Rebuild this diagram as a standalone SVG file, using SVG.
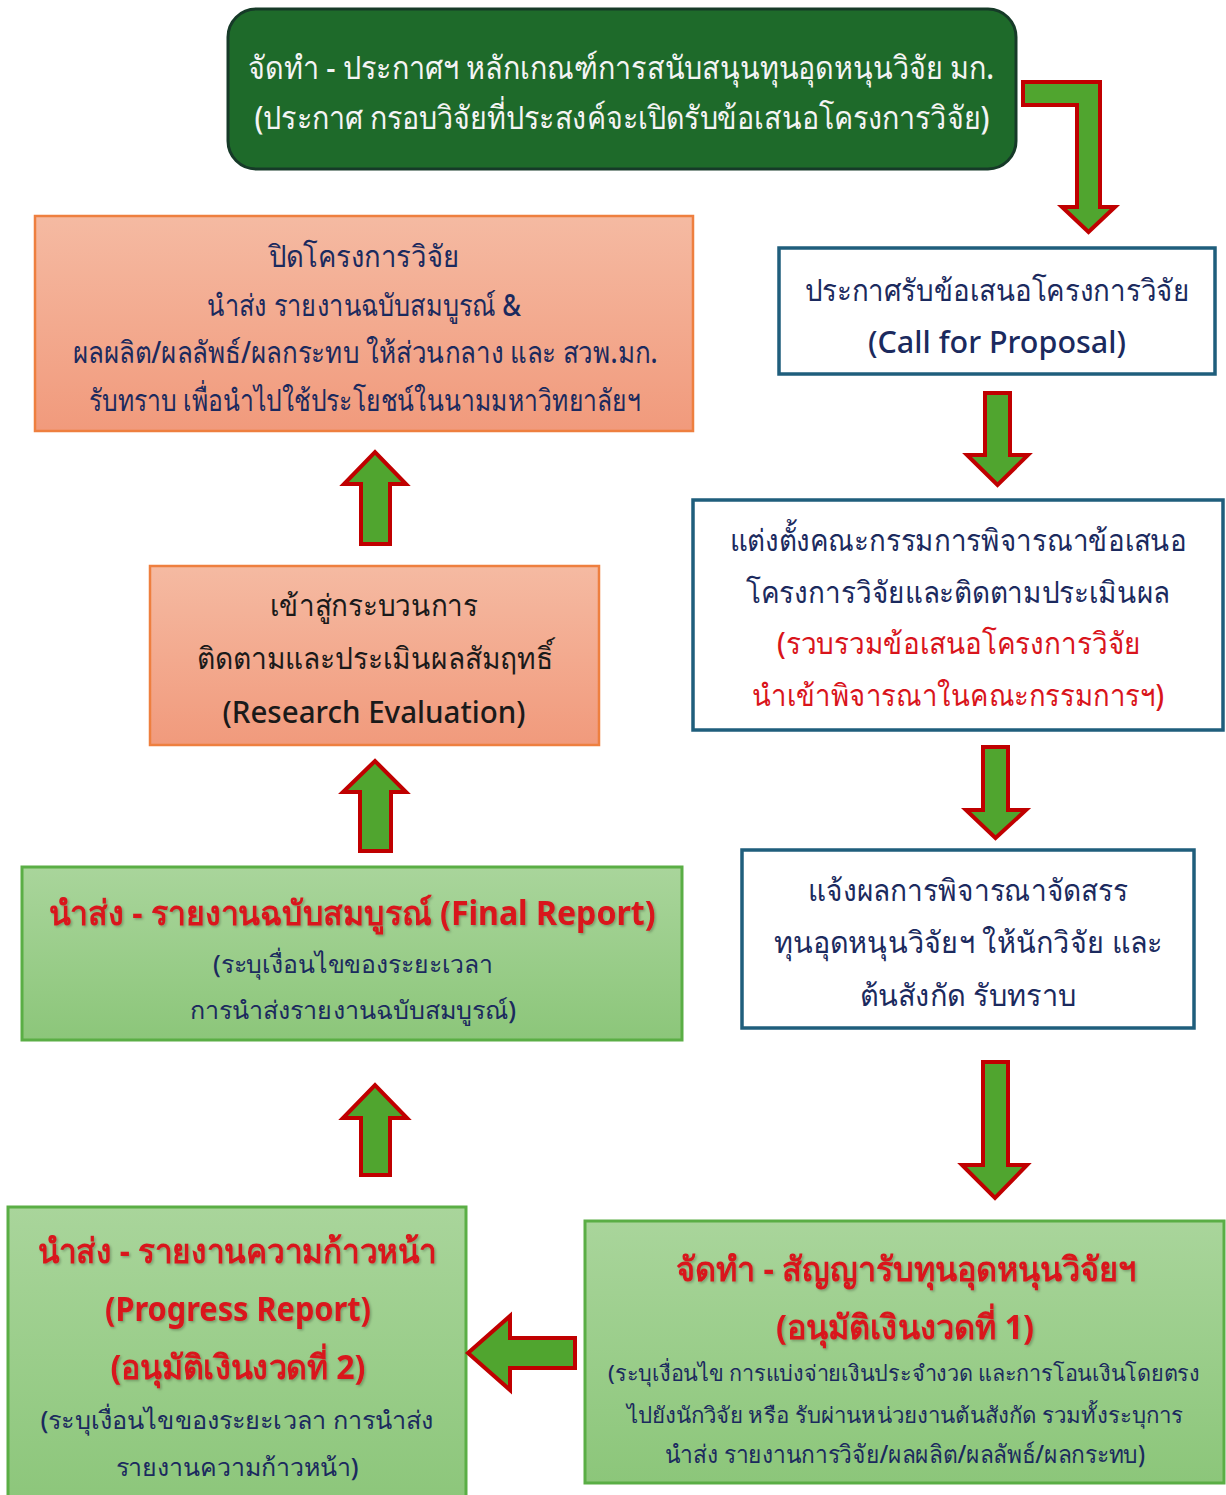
<svg xmlns="http://www.w3.org/2000/svg" width="1226" height="1495" viewBox="0 0 1226 1495">
<defs>
<linearGradient id="gSalmon" x1="0" y1="0" x2="0" y2="1"><stop offset="0" stop-color="#f5baa2"/><stop offset="1" stop-color="#f19a7c"/></linearGradient>
<linearGradient id="gGreen" x1="0" y1="0" x2="0" y2="1"><stop offset="0" stop-color="#a9d59b"/><stop offset="1" stop-color="#8cc67a"/></linearGradient>
<filter id="sh" x="-5%" y="-20%" width="110%" height="140%"><feDropShadow dx="1.5" dy="1.5" stdDeviation="1" flood-color="#000" flood-opacity="0.25"/></filter>
</defs>
<style>
text{font-family:"Noto Sans",Lato,sans-serif;text-anchor:middle;font-weight:500;}
.n{fill:#1b2a5e;font-size:30px;}
.s{fill:#1b2a5e;font-size:25px;}
.s3{fill:#1b2a5e;font-size:22px;}
.w{fill:#f4f4f4;font-size:32px;}
.r{fill:#d9141b;font-size:34px;font-weight:bold;filter:url(#sh);}
.r2{fill:#d9141b;font-size:30px;}
.k{fill:#1a1a1a;font-size:30px;}
.bx{fill:#fff;stroke:#1f5e7c;stroke-width:3.5;}
.sal{fill:url(#gSalmon);stroke:#ee7f3f;stroke-width:2.5;}
.grn{fill:url(#gGreen);stroke:#5aae45;stroke-width:3;}
.ar{fill:#50a52f;stroke:#c00000;stroke-width:4;stroke-linejoin:miter;}
</style>
<rect width="1226" height="1495" fill="#fff"/>
<g id="n-announce">
<rect x="228" y="9" width="788" height="160" rx="28" fill="#1e6a2a" stroke="#163a28" stroke-width="3"/>
<text class="w" x="621" y="79" textLength="746" lengthAdjust="spacingAndGlyphs">จัดทำ - ประกาศฯ หลักเกณฑ์การสนับสนุนทุนอุดหนุนวิจัย มก.</text>
<text class="w" x="622" y="129" textLength="735" lengthAdjust="spacingAndGlyphs">(ประกาศ กรอบวิจัยที่ประสงค์จะเปิดรับข้อเสนอโครงการวิจัย)</text>
</g>
<g id="n-call">
<rect class="bx" x="779" y="248" width="436" height="126"/>
<text class="n" x="997" y="301" textLength="385" lengthAdjust="spacingAndGlyphs">ประกาศรับข้อเสนอโครงการวิจัย</text>
<text class="n" x="997" y="353" textLength="258" lengthAdjust="spacingAndGlyphs">(Call for Proposal)</text>
</g>
<g id="n-committee">
<rect class="bx" x="693" y="500" width="530" height="230"/>
<text class="n" x="958" y="551" textLength="457" lengthAdjust="spacingAndGlyphs">แต่งตั้งคณะกรรมการพิจารณาข้อเสนอ</text>
<text class="n" x="958" y="603" textLength="424" lengthAdjust="spacingAndGlyphs">โครงการวิจัยและติดตามประเมินผล</text>
<text class="r2" x="959" y="654" textLength="364" lengthAdjust="spacingAndGlyphs">(รวบรวมข้อเสนอโครงการวิจัย</text>
<text class="r2" x="958" y="706" textLength="412" lengthAdjust="spacingAndGlyphs">นำเข้าพิจารณาในคณะกรรมการฯ)</text>
</g>
<g id="n-notify">
<rect class="bx" x="742" y="850" width="452" height="178"/>
<text class="n" x="968" y="901" textLength="320" lengthAdjust="spacingAndGlyphs">แจ้งผลการพิจารณาจัดสรร</text>
<text class="n" x="968" y="953" textLength="389" lengthAdjust="spacingAndGlyphs">ทุนอุดหนุนวิจัยฯ ให้นักวิจัย และ</text>
<text class="n" x="968" y="1006" textLength="217" lengthAdjust="spacingAndGlyphs">ต้นสังกัด รับทราบ</text>
</g>
<g id="n-contract">
<rect class="grn" x="585" y="1221" width="639" height="262"/>
<text class="r" x="906" y="1281" textLength="460" lengthAdjust="spacingAndGlyphs">จัดทำ - สัญญารับทุนอุดหนุนวิจัยฯ</text>
<text class="r" x="905" y="1339" textLength="258" lengthAdjust="spacingAndGlyphs">(อนุมัติเงินงวดที่ 1)</text>
<text class="s3" x="904" y="1381" textLength="592" lengthAdjust="spacingAndGlyphs">(ระบุเงื่อนไข การแบ่งจ่ายเงินประจำงวด และการโอนเงินโดยตรง</text>
<text class="s3" x="905" y="1423" textLength="557" lengthAdjust="spacingAndGlyphs">ไปยังนักวิจัย หรือ รับผ่านหน่วยงานต้นสังกัด รวมทั้งระบุการ</text>
<text class="s" x="905" y="1463" textLength="480" lengthAdjust="spacingAndGlyphs">นำส่ง รายงานการวิจัย/ผลผลิต/ผลลัพธ์/ผลกระทบ)</text>
</g>
<g id="n-progress">
<rect class="grn" x="8" y="1207" width="458" height="300"/>
<text class="r" x="237" y="1263" textLength="399" lengthAdjust="spacingAndGlyphs">นำส่ง - รายงานความก้าวหน้า</text>
<text class="r" x="238" y="1321" textLength="266" lengthAdjust="spacingAndGlyphs">(Progress Report)</text>
<text class="r" x="238" y="1379" textLength="255" lengthAdjust="spacingAndGlyphs">(อนุมัติเงินงวดที่ 2)</text>
<text class="s" x="237" y="1429" textLength="393" lengthAdjust="spacingAndGlyphs">(ระบุเงื่อนไขของระยะเวลา การนำส่ง</text>
<text class="s" x="237" y="1476" textLength="243" lengthAdjust="spacingAndGlyphs">รายงานความก้าวหน้า)</text>
</g>
<g id="n-final">
<rect class="grn" x="22" y="867" width="660" height="173"/>
<text class="r" x="352" y="925" textLength="607" lengthAdjust="spacingAndGlyphs">นำส่ง - รายงานฉบับสมบูรณ์ (Final Report)</text>
<text class="s" x="353" y="973" textLength="280" lengthAdjust="spacingAndGlyphs">(ระบุเงื่อนไขของระยะเวลา</text>
<text class="s" x="353" y="1019" textLength="326" lengthAdjust="spacingAndGlyphs">การนำส่งรายงานฉบับสมบูรณ์)</text>
</g>
<g id="n-evaluation">
<rect class="sal" x="150" y="566" width="449" height="179"/>
<text class="k" x="374" y="616" textLength="208" lengthAdjust="spacingAndGlyphs">เข้าสู่กระบวนการ</text>
<text class="k" x="375" y="669" textLength="356" lengthAdjust="spacingAndGlyphs">ติดตามและประเมินผลสัมฤทธิ์</text>
<text class="k" x="374" y="723" textLength="303" lengthAdjust="spacingAndGlyphs">(Research Evaluation)</text>
</g>
<g id="n-close">
<rect class="sal" x="35" y="216" width="658" height="215"/>
<text class="n" x="364" y="267" textLength="191" lengthAdjust="spacingAndGlyphs">ปิดโครงการวิจัย</text>
<text class="n" x="364" y="316" textLength="314" lengthAdjust="spacingAndGlyphs">นำส่ง รายงานฉบับสมบูรณ์ &amp;</text>
<text class="n" x="365" y="363" textLength="585" lengthAdjust="spacingAndGlyphs">ผลผลิต/ผลลัพธ์/ผลกระทบ ให้ส่วนกลาง และ สวพ.มก.</text>
<text class="n" x="365" y="411" textLength="552" lengthAdjust="spacingAndGlyphs">รับทราบ เพื่อนำไปใช้ประโยชน์ในนามมหาวิทยาลัยฯ</text>
</g>
<g id="connectors">
<path class="ar" d="M1023,82 H1100 V207 H1115 L1088.5,232 L1062,207 H1077 V105 H1023 Z"/>
<path class="ar" d="M985,393 H1010 V455 H1028 L997.5,485 L967,455 H985 Z"/>
<path class="ar" d="M983,747 H1008 V810 H1026 L995.5,838 L966,810 H983 Z"/>
<path class="ar" d="M983,1062 H1008 V1165 H1027 L995,1198 L962,1165 H983 Z"/>
<path class="ar" d="M575,1338 V1368 H510 V1390 L468,1353 L510,1316 V1338 Z"/>
<path class="ar" d="M361,1175 V1118 H343 L375,1085 L407,1118 H390 V1175 Z"/>
<path class="ar" d="M360,851 V792 H343 L375,761 L406,792 H391 V851 Z"/>
<path class="ar" d="M361,544 V484 H344 L375,452 L406,484 H390 V544 Z"/>
</g>
</svg>
